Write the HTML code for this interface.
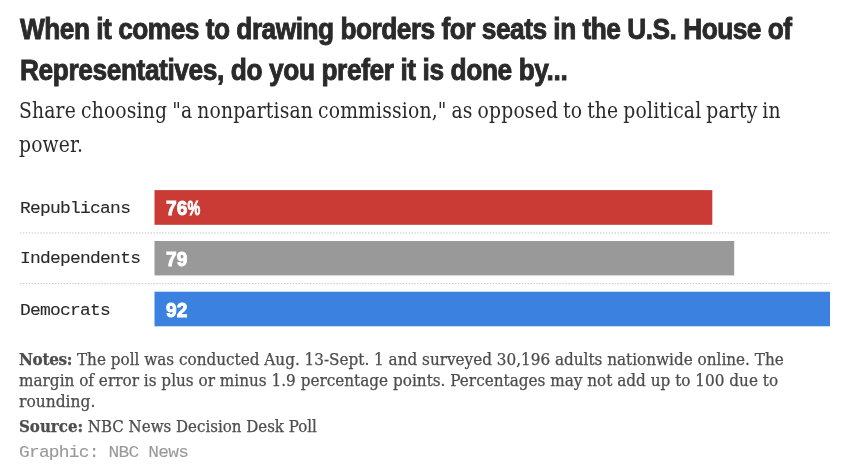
<!DOCTYPE html>
<html><head><meta charset="utf-8">
<style>
html,body{margin:0;padding:0;background:#fff;}
body{width:850px;height:470px;position:relative;overflow:hidden;}
.l{position:absolute;left:20px;white-space:nowrap;transform-origin:0 0;}
.t{font-family:"Liberation Sans",sans-serif;font-weight:700;font-size:29.2px;line-height:36px;color:#2a2a2a;transform:scaleX(0.9);-webkit-text-stroke:0.9px #2a2a2a;letter-spacing:-0.55px;}
.s{font-family:"DejaVu Serif Condensed","DejaVu Serif",serif;font-stretch:condensed;font-size:21.9px;line-height:30px;color:#2a2a2a;transform:scaleX(0.9526);word-spacing:-1.2px;letter-spacing:0.17px;}
.m{font-family:"Liberation Mono",monospace;font-size:16.7px;line-height:20px;color:#2a2a2a;-webkit-text-stroke:0.1px currentColor;letter-spacing:-0.7px;transform:scaleX(1.075);}
.n{font-family:"DejaVu Serif Condensed","DejaVu Serif",serif;font-stretch:condensed;font-size:16.1px;line-height:21px;color:#4d4d4d;transform:scaleX(1.05);-webkit-text-stroke:0.25px #4d4d4d;}
.n b{font-weight:700;}
.bar{position:absolute;left:154.4px;height:34.6px;}
.v{position:absolute;left:11.3px;top:0;font-family:"Liberation Sans",sans-serif;font-weight:700;font-size:20.6px;line-height:35.4px;color:#fff;white-space:nowrap;transform-origin:0 50%;transform:scaleX(0.93);-webkit-text-stroke:0.9px #fff;}
.v i{font-style:normal;display:inline-block;transform-origin:0 50%;transform:scaleX(0.75);}
</style></head><body>
<div class="l t" id="t1" style="top:11.2px">When it comes to drawing borders for seats in the U.S. House of</div>
<div class="l t" id="t2" style="top:51.7px;letter-spacing:-0.44px">Representatives, do you prefer it is done by...</div>
<div class="l s" id="s1" style="top:96.1px;left:18.6px">Share choosing "a nonpartisan commission," as opposed to the political party in</div>
<div class="l s" id="s2" style="top:130.2px;left:18.6px">power.</div>

<svg id="chart" width="850" height="470" viewBox="0 0 850 470" style="position:absolute;left:0;top:0">
<rect x="154.5" y="190.1" width="557.8" height="34.7" fill="#c93b34"/>
<rect x="154.5" y="241" width="579.7" height="34.4" fill="#999999"/>
<rect x="154.5" y="291.7" width="675.5" height="34.6" fill="#3b82e0"/>
<line x1="20" y1="232.95" x2="830" y2="232.95" stroke="#c6c6c6" stroke-width="1" stroke-dasharray="1.45 1.45"/>
<line x1="20" y1="283.6" x2="830" y2="283.6" stroke="#c6c6c6" stroke-width="1" stroke-dasharray="1.45 1.45"/>
</svg>
<div class="l m" id="m1" style="top:198.6px">Republicans</div>
<div class="bar" id="b1" style="top:190.1px;width:558px"><span class="v">76<i>%</i></span></div>
<div class="l m" id="m2" style="top:248.6px">Independents</div>
<div class="bar" id="b2" style="top:240.9px;width:580px"><span class="v">79</span></div>
<div class="l m" id="m3" style="top:300.5px">Democrats</div>
<div class="bar" id="b3" style="top:291.7px;width:675.6px"><span class="v">92</span></div>

<div class="l n" id="n1" style="top:349.4px;left:18.9px;transform:scaleX(1.052)"><b id="bn" style="letter-spacing:-0.3px">Notes:</b> The poll was conducted Aug. 13-Sept. 1 and surveyed 30,196 adults nationwide online. The</div>
<div class="l n" id="n2" style="top:369.6px;left:18.9px;transform:scaleX(1.054)">margin of error is plus or minus 1.9 percentage points. Percentages may not add up to 100 due to</div>
<div class="l n" id="n3" style="top:390.6px;left:18.9px;transform:scaleX(1.07)">rounding.</div>
<div class="l n" id="n4" style="top:416.3px;left:18.7px;transform:scaleX(1.0385)"><b id="bs">Source:</b> NBC News Decision Desk Poll</div>
<div class="l m" id="g1" style="top:443px;left:18.7px;color:#999;transform:scaleX(1.068)">Graphic: NBC News</div>
</body></html>
